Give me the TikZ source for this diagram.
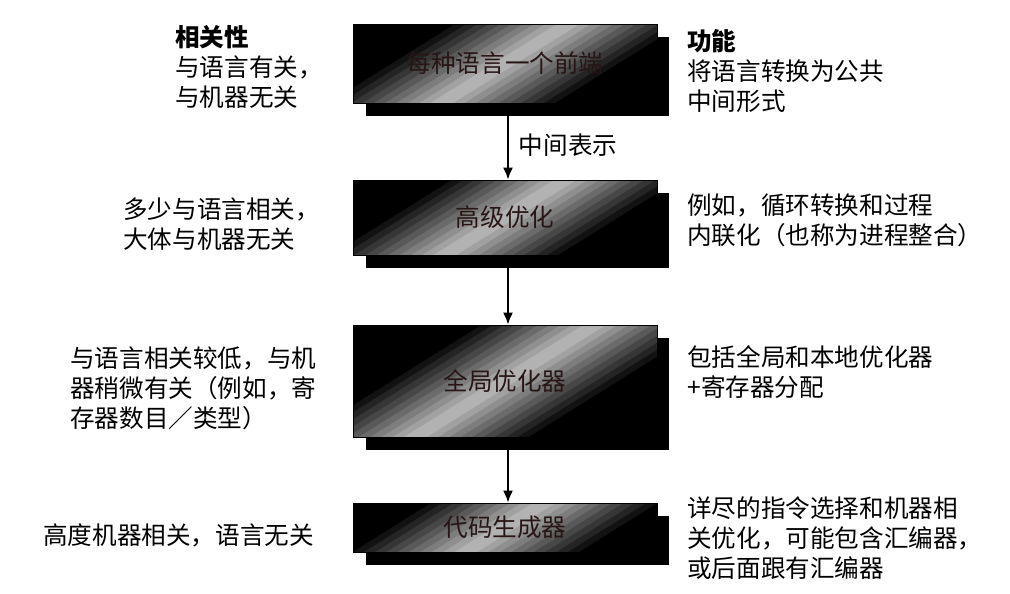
\documentclass[tikz,border=0pt]{standalone}
\usepackage{fontspec}
\setmainfont{Noto Sans CJK SC}
\usetikzlibrary{arrows.meta,shadows}
\definecolor{ink}{RGB}{40,22,22}
\tikzset{
	stage/.style = {draw=black, fill=black, minimum width=6.08cm, inner sep=0pt, text=ink,
		drop shadow={fill=black, opacity=1, shadow xshift=0.25cm, shadow yshift=-0.26cm},
		path picture={
			\foreach \k [evaluate=\k as \c using int(100-7*\k), evaluate=\k as \w using 1.32-0.12*\k] in {1,...,10}
				\fill[black!\c] (path picture bounding box.center) ++(32:-8cm) ++(122:\w cm)
					-- ++(32:16cm) -- ++(122:-2*\w cm) -- ++(32:-16cm) -- cycle;
		}},
	note/.style = {anchor=west, align=left, inner sep=0pt},
	flow/.style = {line width=1.1pt, -{Latex[length=2.4mm,width=2mm]}},
}
\begin{document}
\begin{tikzpicture}[x=0.02cm, y=-0.02cm, font=\fontsize{14}{17}\selectfont]
	\useasboundingbox (0,0) rectangle (1010,594);

	% stages of the compiler
	\node[stage, minimum height=1.58cm](fe) at (505,63.5) {每种语言一个前端};
	\node[stage, minimum height=1.5cm](ho) at (505,217.5) {高级优化};
	\node[stage, minimum height=2.24cm](go) at (505,381) {全局优化器};
	\node[stage, minimum height=0.98cm](cg) at (505,527.5) {代码生成器};

	\draw[flow] ([xshift=0.06cm]fe.south) -- ([xshift=0.06cm]ho.north)
			node[pos=0.55, right=0.2cm, inner sep=0pt](ir){中间表示};
	\draw[flow] ([xshift=0.06cm]ho.south) -- ([xshift=0.06cm]go.north);
	\draw[flow] ([xshift=0.06cm]go.south) -- ([xshift=0.06cm]cg.north);

	% dependencies
	\node[note](dep1) at (175,67) {\textbf{相关性}\\与语言有关，\\与机器无关};
	\node[note](dep2) at (123,224) {多少与语言相关，\\大体与机器无关};
	\node[note](dep3) at (70,388) {与语言相关较低，与机\\器稍微有关（例如，寄\\存器数目／类型）};
	\node[note](dep4) at (43,535) {高度机器相关，语言无关};

	% functions
	\node[note](fun1) at (687,71) {\textbf{功能}\\将语言转换为公共\\中间形式};
	\node[note](fun2) at (687,220) {例如，循环转换和过程\\内联化（也称为进程整合）};
	\node[note](fun3) at (687,372) {包括全局和本地优化器\\+寄存器分配};
	\node[note](fun4) at (687,538) {详尽的指令选择和机器相\\关优化，可能包含汇编器，\\或后面跟有汇编器};
\end{tikzpicture}
\end{document}
